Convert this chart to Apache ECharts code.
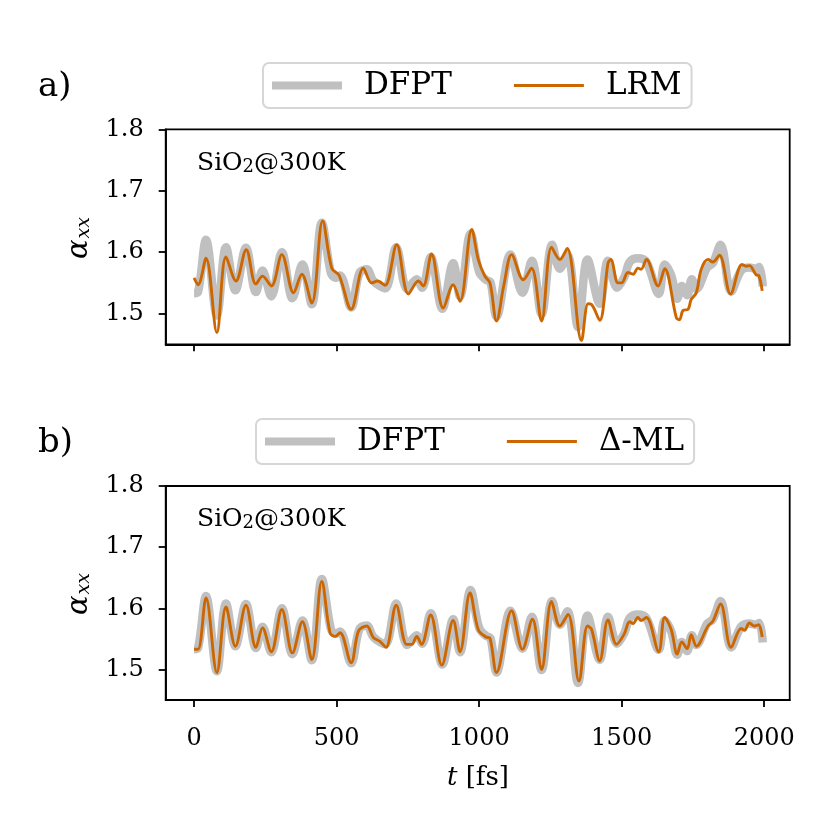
<!DOCTYPE html>
<html>
<head>
<meta charset="utf-8">
<script src="https://cdn.jsdelivr.net/npm/echarts@6/dist/echarts.min.js"></script>
<style>
html,body{margin:0;padding:0;background:#fff;}
#chart{width:831px;height:831px;}
</style>
</head>
<body>
<div id="chart"></div>
<script>
// DFPT reference (same curve in both panels)
const dfptT = [0,14,42,80,112,145,182,217,240,271,308,345,380,413,448,480,497,512,551,580,606,629,670,709,748,781,800,830,871,909,933,970,1000,1024,1040,1061,1110,1152,1185,1219,1256,1283,1310,1347,1380,1423,1452,1484,1510,1528,1557,1587,1630,1651,1674,1695,1711,1730,1746,1762,1800,1820,1847,1884,1919,1948,1970,1983,1995];
const dfptV = [1.533,1.535,1.620,1.497,1.608,1.538,1.607,1.535,1.570,1.528,1.600,1.525,1.580,1.515,1.648,1.566,1.558,1.562,1.510,1.566,1.572,1.553,1.541,1.608,1.540,1.556,1.542,1.592,1.508,1.582,1.528,1.630,1.568,1.555,1.551,1.495,1.596,1.534,1.586,1.499,1.612,1.573,1.595,1.478,1.588,1.516,1.586,1.542,1.560,1.584,1.590,1.584,1.532,1.580,1.562,1.524,1.545,1.530,1.556,1.540,1.575,1.582,1.612,1.536,1.570,1.575,1.573,1.576,1.544];

// LRM (panel a)
const lrmT = [0,14,42,80,112,147,183,217,240,271,308,349,378,413,451,483,509,551,594,623,644,670,711,752,787,804,833,874,909,933,974,997,1020,1038,1061,1087,1114,1155,1184,1219,1254,1283,1309,1359,1382,1394,1423,1452,1462,1487,1500,1522,1540,1557,1568,1587,1628,1651,1692,1703,1715,1733,1744,1762,1779,1803,1820,1843,1882,1922,1937,1948,1972,1981,1993];
const lrmV = [1.558,1.547,1.590,1.469,1.592,1.553,1.604,1.548,1.561,1.545,1.596,1.534,1.564,1.517,1.651,1.574,1.562,1.507,1.574,1.550,1.553,1.546,1.612,1.532,1.553,1.545,1.597,1.509,1.547,1.520,1.637,1.588,1.561,1.550,1.488,1.547,1.596,1.555,1.574,1.488,1.608,1.588,1.606,1.456,1.516,1.515,1.489,1.582,1.588,1.550,1.550,1.567,1.564,1.574,1.572,1.588,1.545,1.573,1.493,1.490,1.505,1.507,1.523,1.534,1.572,1.588,1.584,1.595,1.532,1.580,1.577,1.578,1.563,1.562,1.537];

// Delta-ML (panel b)
const dmlT = [0,14,42,80,112,145,182,217,240,271,308,345,380,413,448,477,495,512,551,577,606,629,652,673,709,746,764,781,798,830,869,909,933,968,997,1024,1038,1061,1114,1152,1187,1219,1254,1283,1312,1350,1380,1394,1423,1452,1482,1508,1528,1540,1557,1568,1587,1630,1651,1674,1695,1711,1730,1744,1762,1803,1820,1847,1884,1919,1931,1948,1966,1980,1993];
const dmlV = [1.533,1.533,1.617,1.495,1.602,1.538,1.605,1.536,1.568,1.529,1.598,1.527,1.578,1.516,1.644,1.560,1.554,1.560,1.511,1.563,1.571,1.552,1.546,1.536,1.605,1.541,1.541,1.554,1.541,1.589,1.507,1.580,1.529,1.625,1.565,1.553,1.551,1.495,1.596,1.533,1.582,1.500,1.611,1.571,1.590,1.481,1.571,1.566,1.514,1.581,1.541,1.557,1.578,1.575,1.585,1.580,1.585,1.529,1.585,1.565,1.525,1.545,1.534,1.557,1.538,1.571,1.579,1.607,1.536,1.567,1.564,1.576,1.571,1.573,1.553];

const yTicks = [1.5, 1.6, 1.7, 1.8];
const xTicks = [0, 500, 1000, 1500, 2000];

const pairs = (t, v) => t.map((x, i) => [x, v[i]]);

const FONT = '"DejaVu Serif", "Liberation Serif", serif';
const GRAY = '#c0c0c0';
const ORANGE = '#cc6600';
// legend icons drawn as paths (70 x 20 box)
const ICON_THICK = 'path://M0,0L0,0M0,6L70,6L70,14L0,14ZM70,20L70,20';
const ICON_THIN = 'path://M0,0L0,0M0,8.6L70,8.6L70,11.4L0,11.4ZM70,20L70,20';

let chart = echarts.init(document.getElementById('chart'), null, {renderer: 'canvas'});

function xAx(idx, showLabel) {
    return {
        type: 'value', gridIndex: idx, min: -99.5, max: 2089.5,
        axisLine: {show: true, onZero: false, lineStyle: {color: '#000', width: 1.8}},
        axisTick: {show: true, length: 7, inside: false, customValues: xTicks, lineStyle: {color: '#000', width: 1.8}},
        axisLabel: {show: showLabel, customValues: xTicks, margin: 27, color: '#000', fontFamily: FONT, fontSize: 24,
            formatter: v => String(v)},
        splitLine: {show: false}
    };
}
function yAx(idx) {
    return {
        type: 'value', gridIndex: idx, min: 1.45, max: 1.8,
        axisLine: {show: true, onZero: false, lineStyle: {color: '#000', width: 1.8}},
        axisTick: {show: true, length: 7, customValues: yTicks, lineStyle: {color: '#000', width: 1.8}},
        axisLabel: {customValues: yTicks, margin: 22, color: '#000', fontFamily: FONT, fontSize: 24,
            formatter: v => v.toFixed(1)},
        splitLine: {show: false}
    };
}
function legendOf(left, top, items) {
    return {
        left: left, top: top, orient: 'horizontal',
        data: items,
        itemWidth: 70, itemHeight: 20, itemGap: 62, symbolKeepAspect: false,
        padding: [7, 10, 7, 9],
        borderColor: '#d6d6d6', borderWidth: 2, borderRadius: 6,
        formatter: n => n.trim(),
        textStyle: {fontFamily: FONT, fontSize: 31, color: '#000', padding: [0, 0, 0, 17]}
    };
}
function lineSeries(name, data, color, width, idx, z) {
    return {
        name: name, type: 'line', data: data, xAxisIndex: idx, yAxisIndex: idx,
        showSymbol: false, symbol: 'none', smooth: 0.35, z: z,
        lineStyle: {color: color, width: width, join: 'round'},
        itemStyle: {color: color},
        animation: false
    };
}

const sub = {fontFamily: FONT, fontSize: 18, verticalAlign: 'bottom', padding: [9, 0, 0, 0]};
const subAx = {fontFamily: FONT, fontSize: 19, fontStyle: 'italic', verticalAlign: 'bottom', padding: [10, 0, 0, 1]};

let option = {
    backgroundColor: '#fff',
    animation: false,
    grid: [
        {left: 165.7, top: 129.3, width: 624, height: 215, show: true, borderColor: '#000', borderWidth: 1.8},
        {left: 165.7, top: 486, width: 624, height: 214, show: true, borderColor: '#000', borderWidth: 1.8}
    ],
    xAxis: [xAx(0, false), xAx(1, true)],
    yAxis: [yAx(0), yAx(1)],
    legend: [
        legendOf(263, 63, [{name: 'DFPT', icon: ICON_THICK}, {name: 'LRM', icon: ICON_THIN}]),
        legendOf(256, 419, [{name: 'DFPT ', icon: ICON_THICK}, {name: 'Δ-ML', icon: ICON_THIN}])
    ],
    series: [
        lineSeries('DFPT', pairs(dfptT, dfptV), GRAY, 8.5, 0, 2),
        lineSeries('LRM', pairs(lrmT, lrmV), ORANGE, 2.9, 0, 3),
        lineSeries('DFPT ', pairs(dfptT, dfptV), GRAY, 8.5, 1, 2),
        lineSeries('Δ-ML', pairs(dmlT, dmlV), ORANGE, 2.9, 1, 3)
    ],
    graphic: [
        {type: 'text', left: 38, top: 70, style: {text: 'a)', fontFamily: FONT, fontSize: 34, fill: '#000'}},
        {type: 'text', left: 38, top: 426, style: {text: 'b)', fontFamily: FONT, fontSize: 34, fill: '#000'}},
        {type: 'text', x: 197, y: 163, style: {text: 'SiO{s|2}@300K', fontFamily: FONT, fontSize: 25, fill: '#000',
            verticalAlign: 'middle', rich: {s: sub}}},
        {type: 'text', x: 197, y: 519, style: {text: 'SiO{s|2}@300K', fontFamily: FONT, fontSize: 25, fill: '#000',
            verticalAlign: 'middle', rich: {s: sub}}},
        {type: 'text', x: 79, y: 238, rotation: Math.PI / 2, style: {text: '{a|α}{s|xx}', align: 'center', verticalAlign: 'middle',
            rich: {a: {fontFamily: FONT, fontSize: 29, fontStyle: 'italic'}, s: subAx}}},
        {type: 'text', x: 79, y: 594, rotation: Math.PI / 2, style: {text: '{a|α}{s|xx}', align: 'center', verticalAlign: 'middle',
            rich: {a: {fontFamily: FONT, fontSize: 29, fontStyle: 'italic'}, s: subAx}}},
        {type: 'text', x: 478, y: 778, style: {text: '{i|t} [fs]', fontFamily: FONT, fontSize: 26, fill: '#000',
            align: 'center', verticalAlign: 'middle', rich: {i: {fontFamily: FONT, fontSize: 26, fontStyle: 'italic'}}}}
    ]
};
chart.setOption(option, true);
window.addEventListener('resize', () => chart.resize());
</script>
</body>
</html>
